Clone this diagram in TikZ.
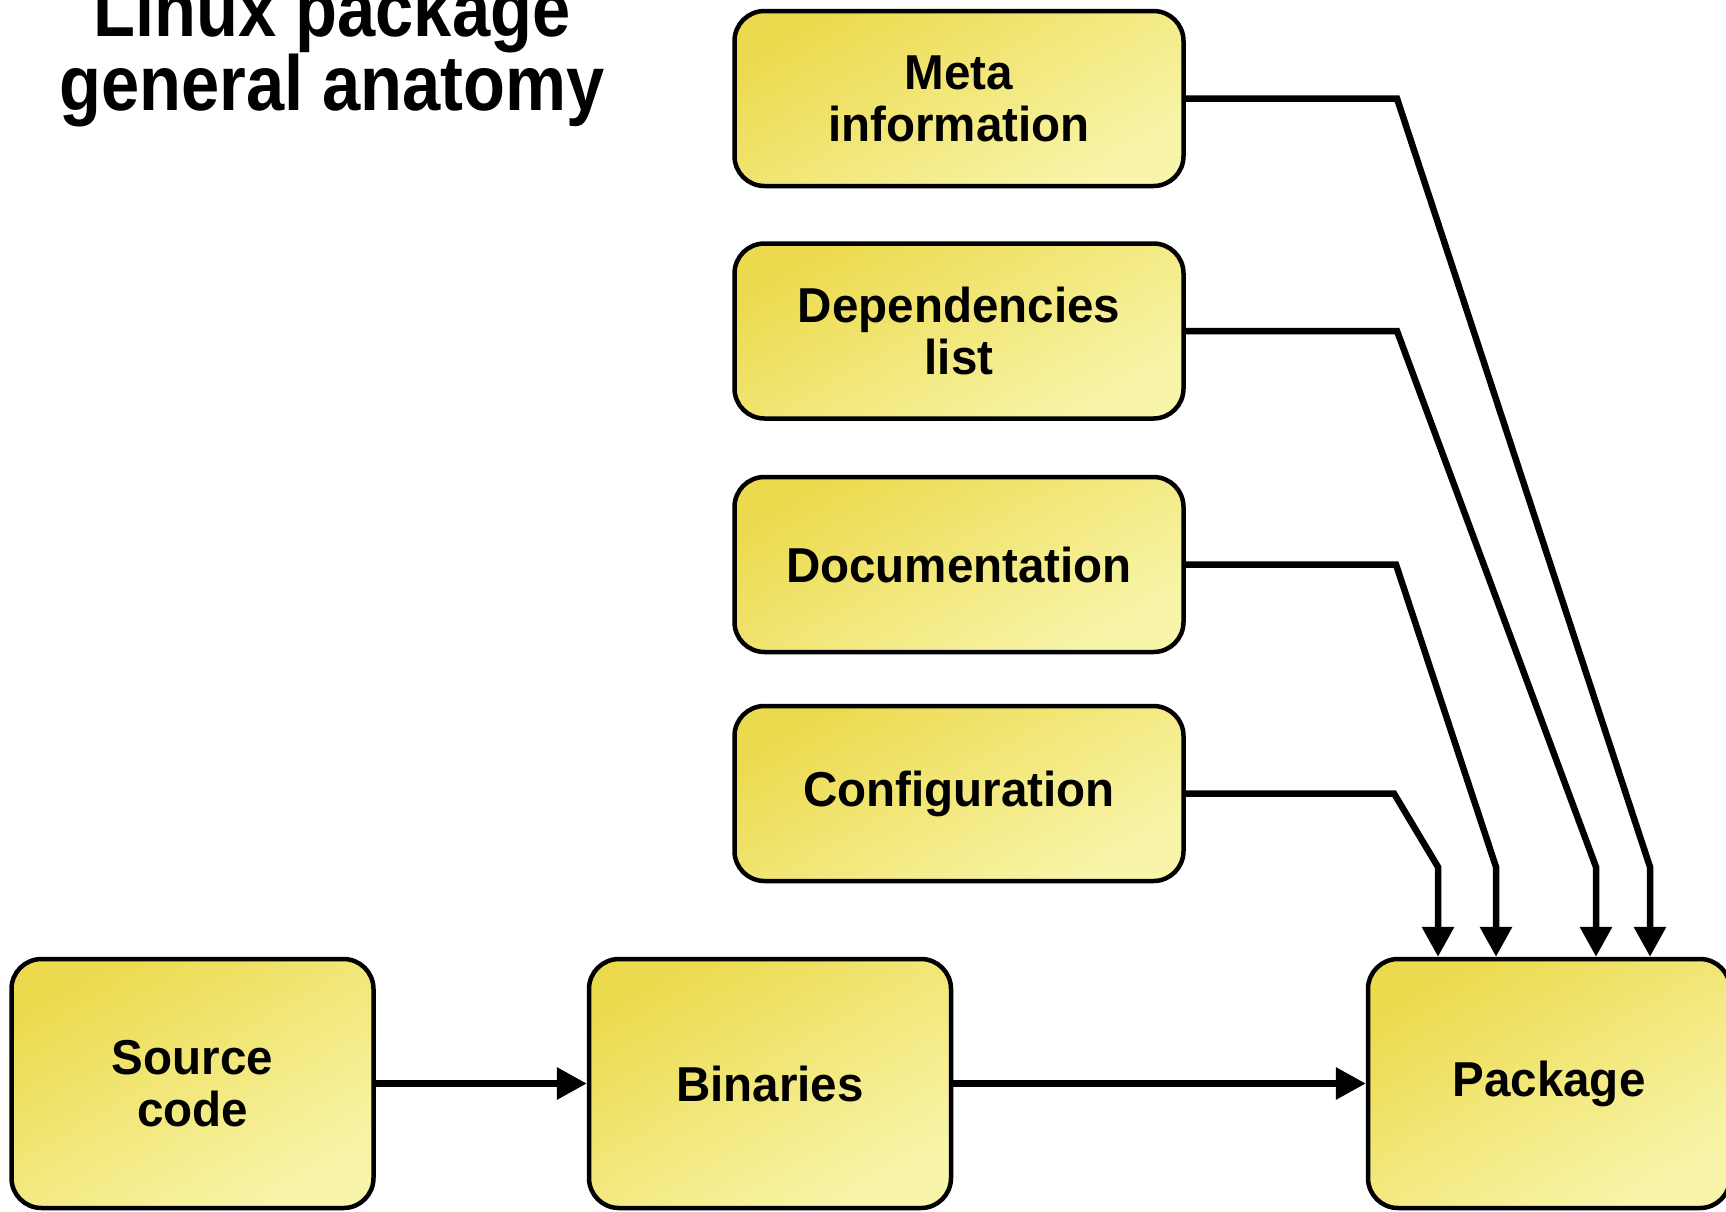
\documentclass[tikz,border=0pt]{standalone}
\usepackage{fontspec}
\setmainfont{Liberation Sans}
\usepackage{graphicx}
\usetikzlibrary{arrows.meta}
\definecolor{ydark}{HTML}{ECDA4E}
\definecolor{ylight}{HTML}{F8F5AA}
\newcommand{\sq}[1]{\scalebox{0.88}[1]{#1}}
\newcommand{\bx}[1]{\scalebox{0.97}[1]{#1}}
\begin{document}
\begin{tikzpicture}[x=1pt,y=-1pt,
  box/.style={draw=black, line width=4.5pt, rounded corners=30pt,
    top color=ydark, bottom color=ylight, shading angle=30,
    minimum width=449pt, minimum height=175pt, inner sep=0pt,
    align=center, font=\fontsize{49}{52}\selectfont\bfseries},
  lowbox/.style={box, minimum width=362pt, minimum height=249pt},
  conn/.style={line width=6.5pt, -{Triangle[width=31pt,length=30pt]}},
]
\useasboundingbox (0,0) rectangle (1726,1211);
\node[anchor=base, align=center, font=\fontsize{78}{74}\selectfont\bfseries] (title) at (332,110) {\sq{Linux package}\\\sq{general anatomy}};
\node[box] (meta) at (959,98.5) {\bx{Meta}\\\bx{information}};
\node[box] (deps) at (959,331) {\bx{Dependencies}\\\bx{list}};
\node[box] (docs) at (959,564.5) {\bx{Documentation}};
\node[box] (conf) at (959,793.5) {\bx{Configuration}};
\node[lowbox] (src) at (192.5,1083.5) {\bx{Source}\\\bx{code}};
\node[lowbox] (bin) at (770,1083.5) {\bx{Binaries}};
\node[lowbox] (pkg) at (1549,1083.5) {\bx{Package}};
\coordinate (c1) at (1394,793.5);
\coordinate (c2) at (1438,867);
\coordinate (d1) at (1396,564.5);
\coordinate (d2) at (1496,867);
\coordinate (e1) at (1397,331);
\coordinate (e2) at (1596,867);
\coordinate (m1) at (1397,98.5);
\coordinate (m2) at (1650,867);
\draw[conn] (conf.east) -- (c1) -- (c2) -- (c2 |- pkg.north);
\draw[conn] (docs.east) -- (d1) -- (d2) -- (d2 |- pkg.north);
\draw[conn] (deps.east) -- (e1) -- (e2) -- (e2 |- pkg.north);
\draw[conn] (meta.east) -- (m1) -- (m2) -- (m2 |- pkg.north);
\draw[conn] (src) -- (bin);
\draw[conn] (bin) -- (pkg);
\end{tikzpicture}
\end{document}
